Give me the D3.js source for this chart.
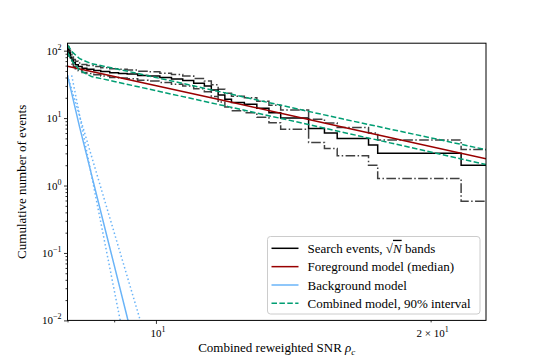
<!DOCTYPE html>
<html>
<head>
<meta charset="utf-8">
<script src="https://cdn.jsdelivr.net/npm/d3@7"></script>
<style>
  body { margin: 0; background: #fff; }
  svg { display: block; font-family: "Liberation Serif", "DejaVu Serif", serif; }
</style>
</head>
<body>
<div id="chart"></div>
<script>
// cumulative counts of search events above each SNR threshold
var eventSnr   = [8.00, 8.03, 8.06, 8.09, 8.12, 8.16, 8.22, 8.30, 8.40, 8.55, 8.70, 8.90, 9.10, 9.30, 9.55, 9.80, 10.1, 10.4, 10.7, 11.0, 11.3, 11.5, 11.7, 11.9, 12.1, 12.5, 12.9, 13.3, 13.7, 14.7, 15.3, 15.8, 17.1, 17.5, 21.6, 23.0];
var eventCount = [105,  92,   80,   72,   66,   62,   58,   55,   53,   51,   49,   47,   46,   45,   43,   42,   40,   38,   36,   33,   30,   26,   22,   19,   17,   16,   14,   12,   10,   7,    6,    5,    4,    3,    2,    2];

// foreground model median
var fgSnr = [8, 12, 16, 23];
var fgMedian = [58.6, 17.6, 7.4, 2.5];

// background model (solid) and its spread (dotted)
var bgSnr = [8.0, 8.25, 8.5, 8.75, 9.0, 9.31, 9.5];
var bgModel = [43, 7.3, 1.45, 0.30, 0.066, 0.0106, 0.004];
var bgLoSnr = [8.085, 9.13, 9.3];
var bgLo = [43.1, 0.0106, 0.005];
var bgHiSnr = [8.0, 9.6, 9.8];
var bgHi = [43.1, 0.0106, 0.006];

// combined model 90% interval
var combSnr = [8.0, 8.1, 8.25, 8.5, 9.0, 10.0, 12.0, 16.0, 23.0];
var combUpper = [122, 95, 76, 64, 54.7, 40, 23.1, 9.75, 3.4];
var combLower = [94, 69, 51, 41.3, 35, 25.5, 14.8, 6.2, 2.05];

var xMajor = [10];
var xMinor = [8, 9, 20];
var yMajor = [1e-2, 1e-1, 1e0, 1e1, 1e2];

var legendLabels = ["Search events, ", "Foreground model (median)", "Background model", "Combined model, 90% interval"];

var width = 540, height = 360;
var margin = {left: 67.5, right: 54, top: 43.2, bottom: 39.6};

var svg = d3.select("#chart").append("svg")
    .attr("width", width)
    .attr("height", height);

var x = d3.scaleLog().domain([8, 23]).range([margin.left, width - margin.right]);
var y = d3.scaleLog().domain([0.01, 129]).range([height - margin.bottom, margin.top]);

svg.append("clipPath").attr("id", "plotclip")
  .append("rect")
    .attr("x", x.range()[0]).attr("y", y.range()[1])
    .attr("width", x.range()[1] - x.range()[0])
    .attr("height", y.range()[0] - y.range()[1]);

var plot = svg.append("g").attr("clip-path", "url(#plotclip)");

function zipPts(xs, ys) { return xs.map(function(v, i) { return [v, ys[i]]; }); }

var line = d3.line().x(function(d) { return x(d[0]); }).y(function(d) { return y(d[1]); });
var stepLine = d3.line().x(function(d) { return x(d[0]); }).y(function(d) { return y(d[1]); }).curve(d3.curveStepAfter);

// sqrt(N) bands of the search events
var upperBand = eventCount.map(function(n) { return n + Math.sqrt(n); });
var lowerBand = eventCount.map(function(n) { return n - Math.sqrt(n); });

[upperBand, lowerBand].forEach(function(b) {
  plot.append("path")
    .datum(zipPts(eventSnr, b))
    .attr("d", stepLine)
    .attr("fill", "none")
    .attr("stroke", "#000")
    .attr("stroke-opacity", 0.75)
    .attr("stroke-width", 1.5)
    .attr("stroke-dasharray", "9.6,2.4,1.5,2.4");
});

plot.append("path")
  .datum(zipPts(eventSnr, eventCount))
  .attr("d", stepLine)
  .attr("fill", "none")
  .attr("stroke", "#000")
  .attr("stroke-width", 1.5);

// background
plot.append("path")
  .datum(zipPts(bgSnr, bgModel))
  .attr("d", line)
  .attr("fill", "none")
  .attr("stroke", "#6ab4f8")
  .attr("stroke-width", 1.5);

[[bgLoSnr, bgLo], [bgHiSnr, bgHi]].forEach(function(p) {
  plot.append("path")
    .datum(zipPts(p[0], p[1]))
    .attr("d", line)
    .attr("fill", "none")
    .attr("stroke", "#6ab4f8")
    .attr("stroke-width", 1.5)
    .attr("stroke-dasharray", "1.5,2.5");
});

// foreground
plot.append("path")
  .datum(zipPts(fgSnr, fgMedian))
  .attr("d", line)
  .attr("fill", "none")
  .attr("stroke", "#990000")
  .attr("stroke-width", 1.5);

// combined interval
[combUpper, combLower].forEach(function(c) {
  plot.append("path")
    .datum(zipPts(combSnr, c))
    .attr("d", line)
    .attr("fill", "none")
    .attr("stroke", "#009e73")
    .attr("stroke-width", 1.5)
    .attr("stroke-dasharray", "5.5,2.4");
});

// frame
svg.append("rect")
  .attr("x", x.range()[0]).attr("y", y.range()[1])
  .attr("width", x.range()[1] - x.range()[0])
  .attr("height", y.range()[0] - y.range()[1])
  .attr("fill", "none")
  .attr("stroke", "#000")
  .attr("stroke-width", 1);

// y axis
var yMinor = [];
yMajor.forEach(function(d) { for (var k = 2; k <= 9; k++) { var v = d * k; if (v < 129) yMinor.push(v); } });

var yAxisG = svg.append("g").attr("transform", "translate(" + x.range()[0] + ",0)")
  .call(d3.axisLeft(y).tickValues(yMajor).tickSize(3.5).tickPadding(3).tickFormat(""));
svg.append("g").attr("transform", "translate(" + x.range()[0] + ",0)")
  .call(d3.axisLeft(y).tickValues(yMinor).tickSize(2).tickFormat(""));

var xAxisG = svg.append("g").attr("transform", "translate(0," + y.range()[0] + ")")
  .call(d3.axisBottom(x).tickValues(xMajor).tickSize(3.5).tickFormat(""));
svg.append("g").attr("transform", "translate(0," + y.range()[0] + ")")
  .call(d3.axisBottom(x).tickValues(xMinor).tickSize(2).tickFormat(""));

svg.selectAll(".domain").remove();
svg.selectAll(".tick line").attr("stroke", "#000").attr("stroke-width", 0.8);

var yExp = {"0.01": "\u22122", "0.1": "\u22121", "1": "0", "10": "1", "100": "2"};
yMajor.forEach(function(v) {
  var t = svg.append("text")
    .attr("x", x.range()[0] - 6)
    .attr("y", y(v) + 4)
    .attr("text-anchor", "end")
    .attr("font-size", 11);
  t.append("tspan").text("10");
  t.append("tspan").attr("dy", -5).attr("font-size", 8).text(yExp[String(v)]);
});

// x tick labels (10^1 and 2 x 10^1)
[[10, "", "1"], [20, "2 \u00d7 ", "1"]].forEach(function(l) {
  var t = svg.append("text")
    .attr("x", x(l[0]) + 2)
    .attr("y", y.range()[0] + 17)
    .attr("text-anchor", "middle")
    .attr("font-size", 11);
  t.append("tspan").text(l[1] + "10");
  t.append("tspan").attr("dy", -5).attr("font-size", 8).text(l[2]);
});

// axis labels
var xl = svg.append("text")
  .attr("x", (x.range()[0] + x.range()[1]) / 2)
  .attr("y", 352)
  .attr("text-anchor", "middle")
  .attr("font-size", 13);
xl.append("tspan").text("Combined reweighted SNR ");
xl.append("tspan").attr("font-style", "italic").text("\u03c1");
xl.append("tspan").attr("font-style", "italic").attr("font-size", 9).attr("dy", 3).text("c");

svg.append("text")
  .attr("transform", "translate(26," + ((y.range()[0] + y.range()[1]) / 2) + ") rotate(-90)")
  .attr("text-anchor", "middle")
  .attr("font-size", 13)
  .text("Cumulative number of events");

// legend
var leg = svg.append("g");
leg.append("rect")
  .attr("x", 267.5).attr("y", 236.5)
  .attr("width", 212.5).attr("height", 77.5)
  .attr("rx", 3)
  .attr("fill", "#fff").attr("fill-opacity", 0.8)
  .attr("stroke", "#ccc").attr("stroke-width", 1);

var legStyles = [
  {color: "#000", dash: null},
  {color: "#990000", dash: null},
  {color: "#6ab4f8", dash: null},
  {color: "#009e73", dash: "5.5,2.4"}
];
legendLabels.forEach(function(lbl, i) {
  var yy = 248.3 + i * 18.35;
  leg.append("line")
    .attr("x1", 271.5).attr("x2", 298.5)
    .attr("y1", yy).attr("y2", yy)
    .attr("stroke", legStyles[i].color)
    .attr("stroke-width", 1.5)
    .attr("stroke-dasharray", legStyles[i].dash);
  var t = leg.append("text")
    .attr("x", 307.5).attr("y", yy + 4.5)
    .attr("font-size", 13);
  t.append("tspan").text(lbl);
  if (i === 0) {
    t.append("tspan").text("\u221a");
    t.append("tspan").attr("font-style", "italic").attr("text-decoration", "overline").text("N");
    t.append("tspan").text(" bands");
  }
});
</script>
</body>
</html>
